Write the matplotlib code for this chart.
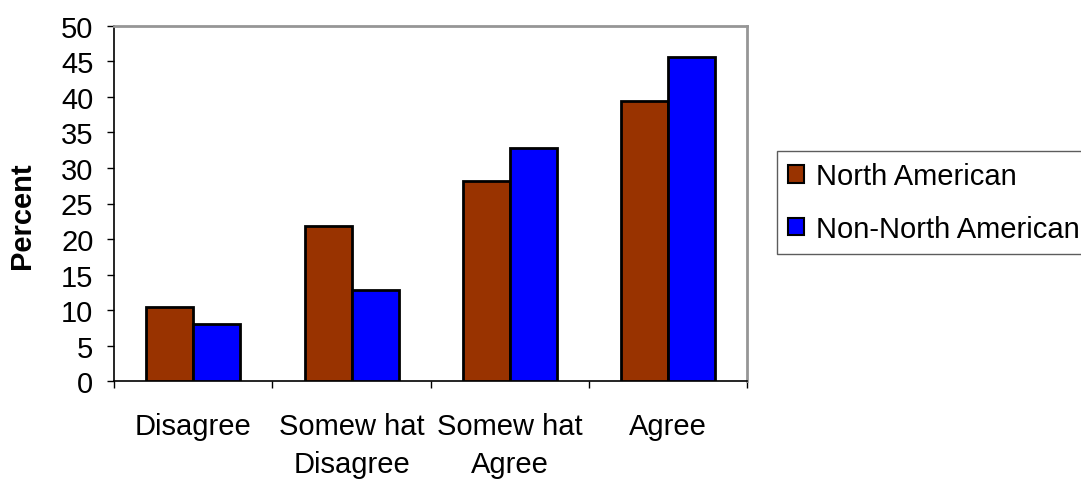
import matplotlib
matplotlib.use("Agg")
import matplotlib.pyplot as plt
from matplotlib.patches import Patch
import numpy as np

categories = ["Disagree", "Somew hat\nDisagree", "Somew hat\nAgree", "Agree"]
series_names = ["North American", "Non-North American"]
north_american = [10.5, 21.8, 28.1, 39.4]
non_north_american = [8.1, 12.8, 32.8, 45.6]
yticks = [0, 5, 10, 15, 20, 25, 30, 35, 40, 45, 50]

colors = ["#993300", "#0000FF"]

plt.rcParams["font.family"] = ["Liberation Sans", "DejaVu Sans"]

W, H = 1081, 481
FS = 21
fig = plt.figure(figsize=(W / 100, H / 100), dpi=100)
ax = fig.add_axes([114.3 / W, 1 - 382.3 / H, (747 - 114.3) / W, (382.3 - 26.7) / H])

x = np.arange(len(categories))
bw = 0.297
ax.bar(x - bw / 2, north_american, bw, color=colors[0], edgecolor="black",
       linewidth=2, zorder=3)
ax.bar(x + bw / 2, non_north_american, bw, color=colors[1], edgecolor="black",
       linewidth=2, zorder=3)

ax.set_xlim(-0.5, len(categories) - 0.5)
ax.set_ylim(0, 50)
ax.set_yticks(yticks)
ax.set_yticklabels([str(v) for v in yticks], fontsize=FS)

# category labels centered, tick marks at category boundaries
ax.set_xticks(x)
ax.set_xticklabels(categories, fontsize=FS, linespacing=1.45)
ax.tick_params(axis="x", which="major", length=0, pad=22)
ax.set_xticks(np.arange(-0.5, len(categories)), minor=True)
ax.tick_params(axis="x", which="minor", length=5, width=1, direction="out", color="black")
ax.tick_params(axis="y", length=5, width=1, direction="out", pad=10, color="black")

for side in ("top", "right"):
    ax.spines[side].set_color("#969696")
    ax.spines[side].set_linewidth(2)
for side in ("left", "bottom"):
    ax.spines[side].set_color("black")
    ax.spines[side].set_linewidth(1.2)

fig.text(22.5 / W, 1 - 216 / H, "Percent", rotation=90, fontsize=FS,
         fontweight="bold", ha="center", va="center")

handles = [Patch(facecolor=c, edgecolor="black", linewidth=1.5) for c in colors]
leg = fig.legend(handles, series_names, loc="upper left",
                 bbox_to_anchor=(777 / W, 1 - 152 / H), fontsize=FS,
                 frameon=True, fancybox=False, edgecolor="#333333",
                 handlelength=0.55, handleheight=0.55, handletextpad=0.42,
                 labelspacing=0.85, borderpad=0.38, borderaxespad=0)
leg.get_frame().set_linewidth(1)

fig.savefig("out.png", dpi=100)
